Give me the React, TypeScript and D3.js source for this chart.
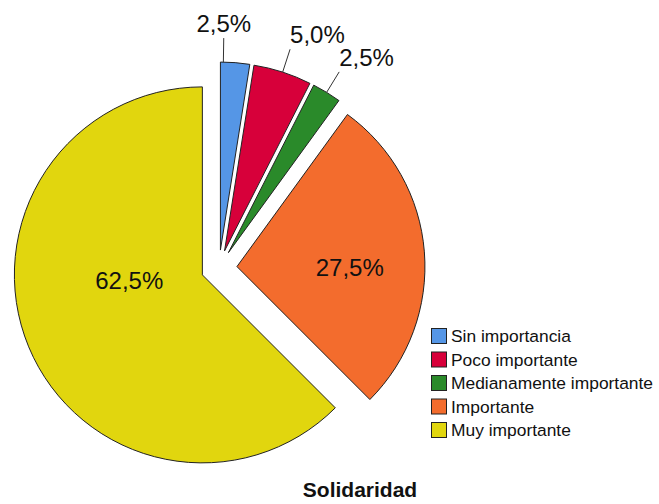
import React from "react";
import * as d3 from "d3";

const categories = ["Sin importancia", "Poco importante", "Medianamente importante", "Importante", "Muy importante"];
const values = [2.5, 5.0, 2.5, 27.5, 62.5];
const labels = ["2,5%", "5,0%", "2,5%", "27,5%", "62,5%"];
const colors = ["#5596e6", "#d7003a", "#2a8a2a", "#f36c2d", "#e1d60e"];
const title = "Solidaridad";

// label layout: kind, position along slice (fraction of angular span), anchor
const labelLayout = [
  { kind: "out", frac: 0.1, anchor: "middle" },
  { kind: "out", frac: 0.5, anchor: "start" },
  { kind: "out", frac: 0.5, anchor: "start" },
  { kind: "in", frac: 0.55, r: 0.6 },
  { kind: "in", frac: 0.58, r: 0.39 },
];

const W = 659, H = 504;
const CX = 219, CY = 268, R = 188, EXPLODE = 18;

export default function App() {
  const pie = d3.pie<number>().sort(null).value((d) => d).startAngle(0).endAngle(2 * Math.PI);
  const arcs = pie(values);
  const arc = d3.arc<d3.PieArcDatum<number>>().innerRadius(0).outerRadius(R);
  const polar = (a: number, r: number) => [r * Math.sin(a), -r * Math.cos(a)];

  return (
    <svg width={W} height={H} style={{ position: "absolute", left: 0, top: 0, background: "#fff" }}
      fontFamily="Liberation Sans, Arial, sans-serif">
      {arcs.map((a, i) => {
        const mid = (a.startAngle + a.endAngle) / 2;
        const [ox, oy] = polar(mid, EXPLODE);
        const lay = labelLayout[i] as any;
        const la = a.startAngle + (a.endAngle - a.startAngle) * lay.frac;
        let labelEl = null;
        if (lay.kind === "out") {
          const [x1, y1] = polar(la, R);
          const [x2, y2] = polar(la, R + 24);
          labelEl = (
            <g>
              <line x1={x1} y1={y1} x2={x2} y2={y2} stroke="#333" strokeWidth={1} />
              <text x={x2} y={y2 - 6} textAnchor={lay.anchor} fontSize={24} fill="#111">{labels[i]}</text>
            </g>
          );
        } else {
          const [lx, ly] = polar(la, R * lay.r);
          labelEl = (
            <text x={lx} y={ly} textAnchor="middle" dominantBaseline="central" fontSize={24} fill="#111">{labels[i]}</text>
          );
        }
        return (
          <g key={i} transform={`translate(${CX + ox},${CY + oy})`}>
            <path d={arc(a) || ""} fill={colors[i]} stroke="#222" strokeWidth={1} strokeLinejoin="miter" />
            {labelEl}
          </g>
        );
      })}
      <g transform="translate(431,328)">
        {categories.map((c, i) => (
          <g key={c} transform={`translate(0,${i * 23.5})`}>
            <rect x={0.5} y={0.5} width={15} height={15} fill={colors[i]} stroke="#222" strokeWidth={1} />
            <text x={20} y={8} dominantBaseline="central" fontSize={17.4} fill="#111">{c}</text>
          </g>
        ))}
      </g>
      <text x={360} y={497} textAnchor="middle" fontSize={21} fontWeight="bold" fill="#111">{title}</text>
    </svg>
  );
}
